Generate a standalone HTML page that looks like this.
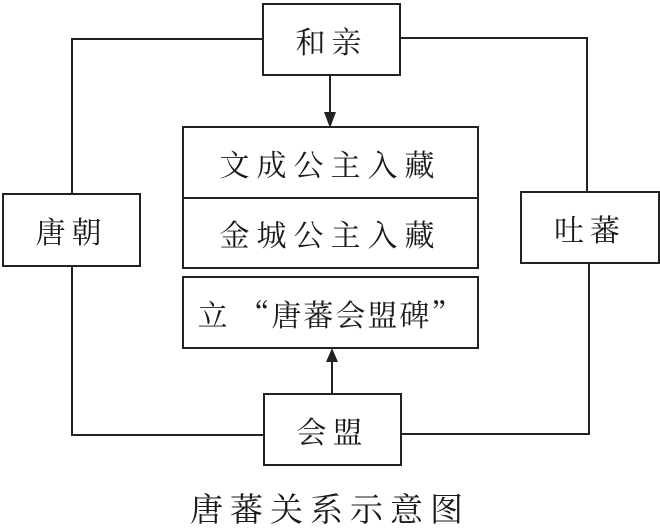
<!DOCTYPE html>
<html><head><meta charset="utf-8"><style>
html,body{margin:0;padding:0;background:#fff;}
body{width:660px;height:523px;position:relative;overflow:hidden;font-family:"Liberation Serif","Noto Serif CJK SC",serif;color:#1a1a1a;}
.b{position:absolute;border:2px solid #222;box-sizing:border-box;display:flex;align-items:center;justify-content:center;font-size:30px;background:#fff;}
.l{position:absolute;background:#222;}
</style></head><body>
<div class="l" style="left:71px;top:38px;width:192px;height:2px"></div>
<div class="l" style="left:71px;top:38px;width:2px;height:157px"></div>
<div class="l" style="left:400px;top:37px;width:188px;height:2px"></div>
<div class="l" style="left:586px;top:37px;width:2px;height:156px"></div>
<div class="l" style="left:71px;top:265px;width:2px;height:171px"></div>
<div class="l" style="left:71px;top:434px;width:193px;height:2px"></div>
<div class="l" style="left:588px;top:262px;width:2px;height:173px"></div>
<div class="l" style="left:400px;top:433px;width:190px;height:2px"></div>
<div class="l" style="left:329px;top:75px;width:2px;height:40px"></div>
<svg style="position:absolute;left:0;top:0" width="660" height="523"><polygon points="324,112 336,112 330,128" fill="#222"/><polygon points="326,362 338,362 332,348" fill="#222"/></svg>
<div class="l" style="left:331px;top:360px;width:2px;height:35px"></div>
<div class="b" style="left:262px;top:3px;width:139px;height:73px;letter-spacing:6px">和亲</div>
<div class="b" style="left:2px;top:193px;width:139px;height:74px;letter-spacing:6px">唐朝</div>
<div class="b" style="left:520px;top:191px;width:140px;height:73px;letter-spacing:6px">吐蕃</div>
<div class="b" style="left:182px;top:126px;width:297px;height:73px;letter-spacing:7px;border-bottom-width:1px">文成公主入藏</div>
<div class="b" style="left:182px;top:197px;width:297px;height:72px;letter-spacing:7px">金城公主入藏</div>
<div class="b" style="left:182px;top:276px;width:297px;height:73px;letter-spacing:2px;font-family:'Noto Serif CJK SC',serif">立 “唐蕃会盟碑”</div>
<div class="b" style="left:263px;top:393px;width:139px;height:73px;letter-spacing:6px">会盟</div>
<div style="position:absolute;left:0;width:660px;top:484px;text-align:center;font-size:33px;letter-spacing:7px;">唐蕃关系示意图</div>
</body></html>
